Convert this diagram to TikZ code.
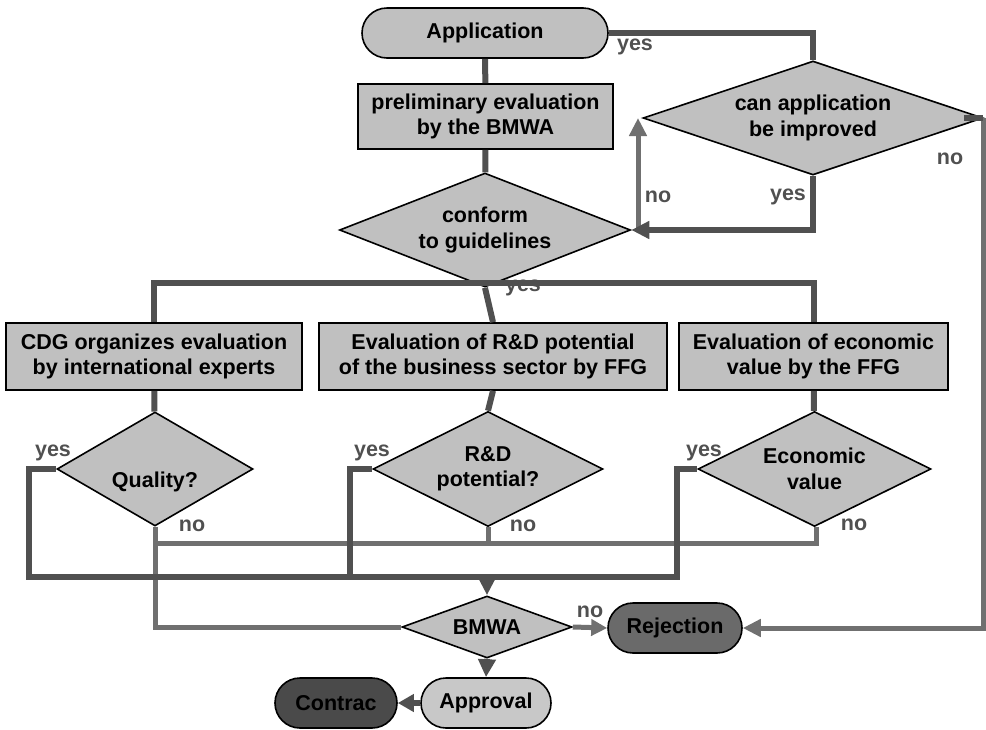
\documentclass[tikz,border=0pt]{standalone}
\usepackage{fontspec}
\setmainfont{Liberation Sans}
\usetikzlibrary{arrows.meta,shapes.geometric}
\definecolor{boxfill}{HTML}{C0C0C0}
\definecolor{darkline}{HTML}{505050}
\definecolor{lightline}{HTML}{707070}
\definecolor{labelgray}{HTML}{505050}
\definecolor{rejfill}{HTML}{6A6A6A}
\definecolor{confill}{HTML}{4A4A4A}
\definecolor{appfill}{HTML}{C8C8C8}
\begin{document}
\begin{tikzpicture}[x=1pt,y=-1pt,
  every node/.style={font=\fontsize{21.5}{25.5}\selectfont\bfseries, align=center, inner sep=0pt},
  procbox/.style={draw=black, line width=1.6pt, fill=boxfill, rectangle, minimum width=#1, minimum height=66pt},
  decide/.style={draw=black, line width=1.6pt, fill=boxfill, diamond},
  term/.style={draw=black, line width=1.6pt, rectangle, rounded corners=25pt, minimum height=50pt},
  dk/.style={draw=darkline, line width=6pt, line join=miter},
  lt/.style={draw=lightline, line width=5pt, line join=miter},
  tip/.style={-{Triangle[length=18pt,width=17pt]}},
  lbl/.style={text=labelgray},
]
\path[use as bounding box] (0,0) rectangle (986,729);

% labels drawn under lines
\node[lbl] (lyesmid) at (523,288) {yes};

% nodes
\node[term, fill=boxfill, minimum width=246pt] (app) at (485,33) {Application};
\node[procbox=255pt, minimum height=65pt] (pre) at (485.5,116.5) {preliminary evaluation\\by the BMWA};
\node[decide, minimum width=291pt, minimum height=114pt, aspect=2.55] (conf) at (485,230) {conform\\to guidelines};
\node[decide, minimum width=340pt, minimum height=114pt, aspect=2.9] (can) at (813,118) {can application\\be improved};

\node[procbox=296pt, minimum height=67pt] (cdg) at (154,356.5) {CDG organizes evaluation\\by international experts};
\node[procbox=348pt, minimum height=67pt] (rdbox) at (493,356.5) {Evaluation of R\&D potential\\of the business sector by FFG};
\node[procbox=269pt, minimum height=67pt] (ecobox) at (813.5,356.5) {Evaluation of economic\\value by the FFG};

\node[decide, minimum width=196pt, minimum height=114pt, aspect=1.72,
      label={[yshift=-13pt]center:Quality?}] (quality) at (155,469) {};
\node[decide, minimum width=230pt, minimum height=115pt, aspect=2] (rd) at (488,469) {R\&D\\potential?};
\node[decide, minimum width=233pt, minimum height=115pt, aspect=2] (econ) at (814.5,469) {Economic\\value};

\node[decide, minimum width=170pt, minimum height=62pt, aspect=2.74] (bmwa) at (487,627) {BMWA};
\node[term, fill=rejfill, minimum width=134pt] (rej) at (675,628) {Rejection};
\node[term, fill=appfill, minimum width=130pt] (appr) at (486,703) {Approval};
\node[term, fill=confill, minimum width=122pt] (contr) at (336,703) {Contrac};

% coordinates
\coordinate (bus) at (485,283);
\coordinate (nostart) at (638,232);
\coordinate (rc) at (983,118);
\coordinate (ybL) at (29,577);
\coordinate (ybM) at (350,577);
\coordinate (yb) at (487,577);
\coordinate (ybR) at (677,577);
\coordinate (nbR) at (816,543);

% top part
\draw[dk] (app) -- (pre);
\draw[dk] (pre) -- (conf);
\draw[dk] (app.east) -| (can.north);
\draw[lt,tip] (nostart) -- (nostart |- can.west);
\draw[dk,tip] (can.south) |- (conf.east);
\draw[lt,tip] (rc) |- (rej.east);
\draw[dk] (can.east) ++(-20,0) -- (rc);

% fan out
\draw[dk] (cdg.north) |- (bus) -| (ecobox.north);
\draw[dk] (conf.south) -- (rdbox.north);
\draw[dk] (cdg) -- (quality);
\draw[dk] (rdbox.south) -- (rd.north);
\draw[dk] (ecobox) -- (econ);

% no lines
\draw[lt] (quality.south) |- (bmwa.west);
\draw[lt] (quality.south |- nbR) -- (nbR) -- (nbR |- econ.south);
\draw[lt] (rd.south) -- (rd.south |- nbR);

% yes lines
\draw[dk] (quality.west) -- (quality.west -| ybL) -- (ybL) -- (ybR) -- (ybR |- econ.west) -- (econ.west);
\draw[dk] (rd.west) -| (ybM);
\draw[dk,tip] (yb) -- (bmwa.north);

% bottom
\draw[lt,-{Triangle[length=16pt,width=16pt]}] (bmwa.east) -- (rej.west);
\draw[dk,tip] (bmwa.south) -- (appr.north);
\draw[dk,-{Triangle[length=16pt,width=17pt]}] (appr.west) -- (contr.east);

% labels
\node[lbl] (lyes1) at (635,47) {yes};
\node[lbl] (lno1) at (658,197) {no};
\node[lbl] (lyes2) at (788,197) {yes};
\node[lbl] (lno2) at (950,159) {no};
\node[lbl] (lyesq) at (53,453) {yes};
\node[lbl] (lyesr) at (372,453) {yes};
\node[lbl] (lyese) at (704,453) {yes};
\node[lbl] (lnoq) at (192,526) {no};
\node[lbl] (lnor) at (523,526) {no};
\node[lbl] (lnoe) at (854,525) {no};
\node[lbl] (lnob) at (590,612) {no};
\end{tikzpicture}
\end{document}
